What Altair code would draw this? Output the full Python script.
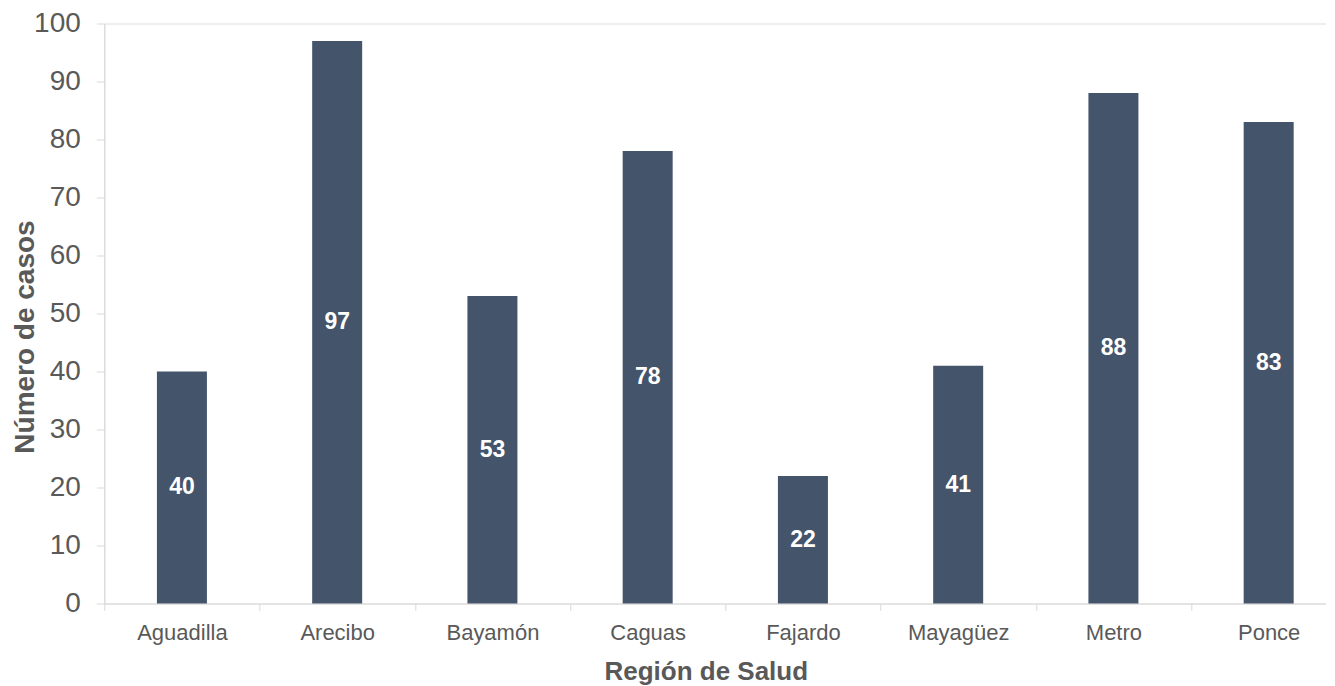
import altair as alt
import pandas as pd

regions = ["Aguadilla", "Arecibo", "Bayamón", "Caguas", "Fajardo", "Mayagüez", "Metro", "Ponce"]
cases = [40, 97, 53, 78, 22, 41, 88, 83]
y_ticks = [0, 10, 20, 30, 40, 50, 60, 70, 80, 90, 100]

df = pd.DataFrame({"region": regions, "cases": cases})

FONT = "Liberation Sans"
TXT = "#595959"
LINE = "#D9D9D9"
BAR = "#44546A"

W_VIEW = 1222
W_RANGE = 1242
H = 580

x = alt.X(
    "region:N",
    sort=regions,
    scale=alt.Scale(paddingInner=0, paddingOuter=0, range=[0, W_RANGE]),
    axis=alt.Axis(
        title="Región de Salud",
        labelAngle=0,
        tickBand="extent",
        tickSize=7,
        tickColor=LINE,
        domainColor=LINE,
        labelFont=FONT,
        labelFontSize=22,
        labelColor=TXT,
        labelBaseline="alphabetic",
        labelPadding=29.5,
        titleFont=FONT,
        titleFontSize=26,
        titleFontWeight="bold",
        titleColor=TXT,
        titleBaseline="alphabetic",
        titleAlign="center",
        titleX=601.5,
        titleY=76,
        grid=False,
    ),
)

y_axis = alt.Axis(
    title="Número de casos",
    values=y_ticks,
    tickSize=8,
    tickColor=LINE,
    domainColor=LINE,
    labelFont=FONT,
    labelFontSize=28,
    labelColor=TXT,
    labelPadding=16,
    titleFont=FONT,
    titleFontSize=28,
    titleFontWeight="bold",
    titleColor=TXT,
    titleBaseline="alphabetic",
    titleAlign="center",
    titleAngle=270,
    titleX=-71,
    titleY=313,
    grid=False,
)

base = alt.Chart(df)

bars = base.mark_bar(color=BAR, size=50).encode(
    x=x,
    y=alt.Y("cases:Q", scale=alt.Scale(domain=[0, 100], nice=False), axis=y_axis),
)

labels = base.transform_calculate(mid="datum.cases / 2").mark_text(
    color="white", font=FONT, fontSize=23, fontWeight="bold", baseline="middle"
).encode(
    x=alt.X("region:N", sort=regions),
    y=alt.Y("mid:Q"),
    text=alt.Text("cases:Q"),
)

chart = (
    alt.layer(bars, labels)
    .properties(
        width=W_VIEW,
        height=H,
        autosize=alt.AutoSizeParams(type="none"),
        padding={"left": 96.3, "top": 15.5, "right": 0, "bottom": 84},
    )
    .configure_view(stroke=None)
    .configure(background="white")
)

chart.save("out.html", embed_options={"renderer": "svg", "actions": False})
